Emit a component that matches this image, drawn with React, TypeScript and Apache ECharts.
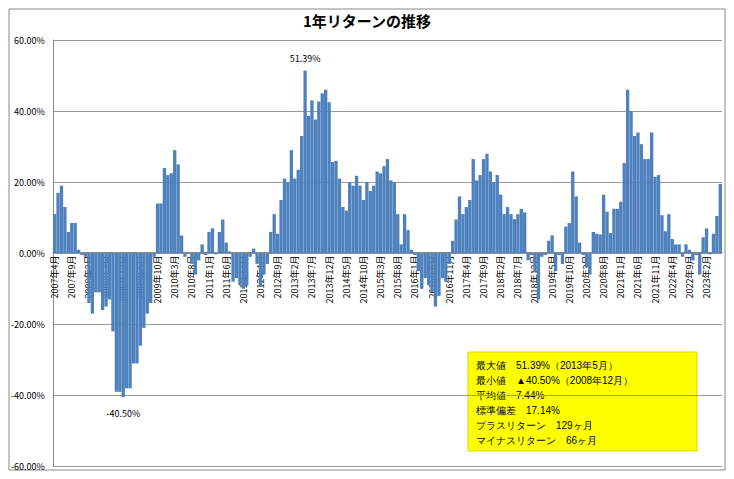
import React, { useEffect, useRef } from 'react'
import * as echarts from 'echarts'

const years = [2007, 2008, 2009, 2010, 2011, 2012, 2013, 2014, 2015, 2016, 2017, 2018, 2019, 2020, 2021, 2022, 2023]

// 1年リターン(%)、2007年4月〜2023年6月
const returns2007 = [11, 17, 19, 13, 6, 8.5, 8.5, 1, -0.5]
const returns2008 = [-1, -14, -17, -11, -11, -16, -15, -13, -22, -39, -39, -40.5]
const returns2009 = [-38, -38, -31, -31, -26, -21, -17, -14, -1, 14, 14, 24]
const returns2010 = [22, 22.5, 29, 25, 5, -1, 0.2, -3, -6, -2, 2.5, -0.5]
const returns2011 = [6, 7, -0.3, 6, 9.5, 3, 0.5, -8, -7, -9, -10, -9]
const returns2012 = [-1, 1.3, -3, -9.5, -6, -3, 6, 11, 5.5, 15, 21, 20]
const returns2013 = [29, 21, 23.5, 33, 51.39, 38.6, 43, 37.6, 42.7, 45, 46, 42.5]
const returns2014 = [25.7, 26, 21, 13, 12, 20, 19, 21.8, 19, 15, 20, 17.5]
const returns2015 = [19, 23, 22.5, 24.5, 26.5, 20.5, 20, 11, 2.5, 11, 6.5, 1]
const returns2016 = [-0.5, -5, -10, -7, -9, -11, -15, -12, -7, -8, -3, 3.5]
const returns2017 = [9.5, 16, 11, 13, 15, 26.5, 20.5, 22, 26.5, 28, 23, 20]
const returns2018 = [22, 16.5, 11, 13, 11, 9.6, 11, 12.5, 11.5, -2, -0.5, -5]
const returns2019 = [-13, -1, -0.5, 3.5, 5, -5, -0.5, -3, 7.5, 8.5, 23, 16]
const returns2020 = [3, -0.5, -4, -6, 6, 5.5, 5.3, 16.5, 11.7, 5.7, 12.5, 12.5]
const returns2021 = [14.5, 25.4, 46, 40, 33, 34, 30.7, 26.5, 26.5, 34, 21.5, 22]
const returns2022 = [10.7, 6.2, 11, 4, 2.5, 2.5, -1, 2.5, 1, -2, -0.5, -6]
const returns2023 = [4.5, 7, -0.3, 5.5, 10.5, 19.5]

const yearReturns = [
  returns2007, returns2008, returns2009, returns2010, returns2011, returns2012,
  returns2013, returns2014, returns2015, returns2016, returns2017, returns2018,
  returns2019, returns2020, returns2021, returns2022, returns2023,
]

const categories: string[] = []
const values: number[] = []
yearReturns.forEach((arr, i) => {
  const startMonth = i === 0 ? 4 : 1
  arr.forEach((v, j) => {
    categories.push(`${years[i]}年${startMonth + j}月`)
    values.push(v)
  })
})

const statLines = [
  '最大値　51.39%（2013年5月）',
  '最小値　▲40.50%（2008年12月）',
  '平均値　7.44%',
  '標準偏差　17.14%',
  'プラスリターン　129ヶ月',
  'マイナスリターン　66ヶ月',
]

const App: React.FC = () => {
  const chartRef = useRef<HTMLDivElement>(null)

  useEffect(() => {
    if (!chartRef.current) return
    const chart = echarts.init(chartRef.current, undefined, { renderer: 'svg' })
    const maxV = Math.max(...values)
    const minV = Math.min(...values)

    const data = values.map((v) => {
      if (v === maxV) {
        return { value: v, label: { show: true, position: 'top', distance: 8, formatter: '51.39%', color: '#000', fontSize: 9 } }
      }
      if (v === minV) {
        return { value: v, label: { show: true, position: 'bottom', distance: 12, formatter: '-40.50%', color: '#000', fontSize: 9 } }
      }
      return v
    })

    chart.setOption({
      animation: false,
      textStyle: { fontFamily: '"Noto Sans CJK JP", sans-serif' },
      title: {
        text: '1年リターンの推移',
        left: 'center',
        top: 0,
        textStyle: { fontSize: 15, fontWeight: 'bold', color: '#000' },
      },
      grid: { left: 42, right: 4, top: 32, bottom: 3 },
      xAxis: {
        type: 'category',
        data: categories,
        offset: -214,
        axisLine: { onZero: false, lineStyle: { color: '#888' } },
        axisTick: { show: false },
        axisLabel: { interval: 4, rotate: 90, fontSize: 9, color: '#000', margin: 3 },
      },
      yAxis: {
        type: 'value',
        min: -60,
        max: 60,
        interval: 20,
        axisLine: { show: true, lineStyle: { color: '#888' } },
        axisLabel: { formatter: (v: number) => v.toFixed(2) + '%', fontSize: 9, color: '#000' },
        splitLine: { lineStyle: { color: '#999' } },
      },
      series: [
        {
          type: 'bar',
          data,
          barCategoryGap: '3%',
          itemStyle: { color: '#4f81bd' },
        },
      ],
      graphic: [
        {
          type: 'rect',
          shape: { x: 1, y: 1, width: 716, height: 461 },
          style: { fill: 'none', stroke: '#888', lineWidth: 1 },
          silent: true,
        },
        {
          type: 'rect',
          shape: { x: 460, y: 344, width: 229, height: 99 },
          style: { fill: '#ffff00', stroke: '#d9d900' },
        },
        {
          type: 'text',
          x: 468,
          y: 350,
          style: { text: statLines.join('\n'), fontSize: 10, lineHeight: 15, fill: '#000' },
        },
      ],
    })
    return () => chart.dispose()
  }, [])

  return <div ref={chartRef} style={{ width: 718, height: 463 }} />
}

export default App
